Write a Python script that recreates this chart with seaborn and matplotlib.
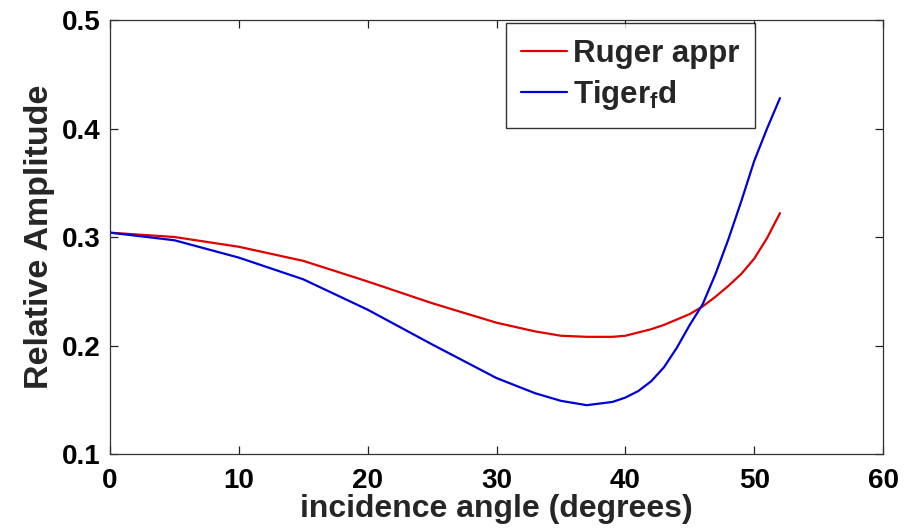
import matplotlib
matplotlib.use("Agg")
import matplotlib.pyplot as plt
import seaborn as sns
import pandas as pd

angles = [0, 5, 10, 15, 20, 25, 30, 33, 35, 37, 39, 40, 41, 42, 43, 44, 45, 46, 47, 48, 49, 50, 51, 52]
ruger = [0.304, 0.300, 0.291, 0.278, 0.259, 0.239, 0.221, 0.213, 0.209, 0.208, 0.208, 0.209, 0.212, 0.215, 0.219, 0.224, 0.229, 0.236, 0.245, 0.255, 0.266, 0.280, 0.299, 0.322]
tiger = [0.304, 0.297, 0.281, 0.261, 0.233, 0.201, 0.170, 0.156, 0.149, 0.145, 0.148, 0.152, 0.158, 0.167, 0.180, 0.198, 0.219, 0.238, 0.266, 0.298, 0.333, 0.370, 0.400, 0.428]
series_names = ["Ruger appr", "Tiger$_\\mathregular{f}$d"]
xticks = [0, 10, 20, 30, 40, 50, 60]
yticks = [0.1, 0.2, 0.3, 0.4, 0.5]

df = pd.DataFrame({
    "angle": angles * 2,
    "amp": ruger + tiger,
    "series": [series_names[0]] * len(angles) + [series_names[1]] * len(angles),
})

sns.set_style("ticks")
plt.rcParams["font.family"] = ["Liberation Sans", "DejaVu Sans"]
plt.rcParams["font.weight"] = "bold"
plt.rcParams["mathtext.default"] = "regular"

fig = plt.figure(figsize=(9.2, 5.32), dpi=100)
ax = fig.add_axes([0.1196, 0.1466, 0.8402, 0.8158])

sns.lineplot(data=df, x="angle", y="amp", hue="series",
             palette={series_names[0]: "#e00000", series_names[1]: "#0000d8"},
             linewidth=1.6, ax=ax, sort=False)

ax.set_xlim(0, 60)
ax.set_ylim(0.1, 0.5)
ax.set_xticks(xticks)
ax.set_yticks(yticks)
ax.set_xticklabels([str(t) for t in xticks])
ax.set_yticklabels([f"{t:.1f}" for t in yticks])
ax.tick_params(direction="in", length=6, width=0.9, top=True, right=True,
               labelsize=20, colors="#222222", labelcolor="black")
ax.tick_params(axis="x", pad=10)
ax.tick_params(axis="y", pad=7)
for lbl in ax.get_xticklabels() + ax.get_yticklabels():
    lbl.set_fontweight("bold")
for s in ax.spines.values():
    s.set_visible(True)
    s.set_color("#333333")
    s.set_linewidth(0.9)

ax.set_xlabel("incidence angle (degrees)", fontsize=23, fontweight="bold", labelpad=0)
ax.set_ylabel("Relative Amplitude", fontsize=24.5, fontweight="bold", labelpad=5)

handles, labels = ax.get_legend_handles_labels()
leg = ax.legend(handles, labels, loc="upper left", bbox_to_anchor=(0.512, 0.993),
                frameon=True, fancybox=False, edgecolor="black",
                handlelength=1.45, handletextpad=0.2, borderpad=0.5, labelspacing=0.3,
                borderaxespad=0,
                prop={"weight": "bold", "size": 22.5})
leg.get_frame().set_linewidth(1.0)
for line in leg.get_lines():
    line.set_linewidth(1.6)

fig.savefig("out.png", dpi=100, facecolor="white")
